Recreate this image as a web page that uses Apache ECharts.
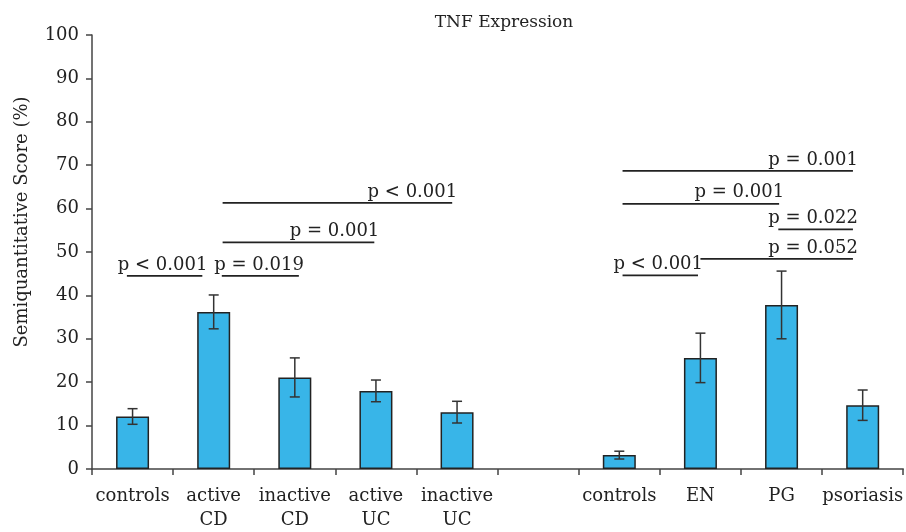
<!DOCTYPE html>
<html>
<head>
<meta charset="utf-8">
<script src="https://cdn.jsdelivr.net/npm/echarts@6/dist/echarts.min.js"></script>
<style>
  html, body { margin: 0; padding: 0; background: #fff; }
  #chart { width: 906px; height: 532px; }
</style>
</head>
<body>
<div id="chart"></div>
<script>
// groups on the x axis (blank slot separates the two panels)
const categories = ['controls', 'active\nCD', 'inactive\nCD', 'active\nUC', 'inactive\nUC', '', 'controls', 'EN', 'PG', 'psoriasis'];
const means = [12.1, 36.2, 21.1, 18.0, 13.1, null, 3.2, 25.6, 37.8, 14.7];
const errors = [1.8, 3.9, 4.5, 2.5, 2.5, null, 0.9, 5.7, 7.8, 3.5];

// significance brackets (x in category units, 0..10)
const sigStart = [0.43, 1.60, 1.61, 1.61, 6.54, 6.54, 8.46, 7.50, 6.54];
const sigEnd = [1.36, 2.55, 3.48, 4.44, 9.38, 8.47, 9.38, 9.38, 7.47];
const sigLevel = [44.5, 44.5, 52.2, 61.3, 68.7, 61.1, 55.2, 48.4, 44.6];
const sigLabels = ['p < 0.001', 'p = 0.019', 'p = 0.001', 'p < 0.001', 'p = 0.001', 'p = 0.001', 'p = 0.022', 'p = 0.052', 'p < 0.001'];

const FONT = 'DejaVu Serif';
const INK = '#222';

const chart = echarts.init(document.getElementById('chart'));

const errData = means.map((m, i) => m == null ? null : [i, m - errors[i], m + errors[i]]);
const sigData = sigStart.map((s, i) => [s, sigEnd[i], sigLevel[i], sigLabels[i]]);

const option = {
  backgroundColor: '#fff',
  animation: false,
  title: {
    text: 'TNF Expression',
    left: 499,
    top: 9,
    textAlign: 'center',
    textStyle: { fontFamily: FONT, fontSize: 17, fontWeight: 'normal', color: INK }
  },
  graphic: [{
    type: 'text',
    x: 22,
    y: 222,
    rotation: Math.PI / 2,
    style: {
      text: 'Semiquantitative Score (%)',
      font: '18px ' + FONT,
      fill: INK,
      align: 'center',
      verticalAlign: 'middle'
    }
  }],
  grid: { left: 92, top: 35, right: 0, bottom: 60 },
  xAxis: [
    {
      type: 'category',
      data: categories,
      axisLine: { lineStyle: { color: '#444', width: 1.5 } },
      axisTick: { show: true, alignWithLabel: false, length: 6, lineStyle: { color: '#444', width: 1.5 } },
      axisLabel: { fontFamily: FONT, fontSize: 18, color: INK, margin: 15, lineHeight: 24, interval: 0 }
    },
    { type: 'value', min: 0, max: 10, show: false }
  ],
  yAxis: {
    type: 'value',
    min: 0,
    max: 100,
    interval: 10,
    axisLine: { show: true, lineStyle: { color: '#444', width: 1.5 } },
    axisTick: { show: true, length: 6, lineStyle: { color: '#444', width: 1.5 } },
    splitLine: { show: false },
    axisLabel: { fontFamily: FONT, fontSize: 18, color: INK, margin: 13 }
  },
  series: [
    {
      type: 'bar',
      data: means,
      barWidth: 33,
      itemStyle: { color: '#38b5e8', borderColor: '#222', borderWidth: 1.5 }
    },
    {
      type: 'custom',
      data: errData.filter(d => d),
      z: 5,
      renderItem: function (params, api) {
        const lo = api.coord([api.value(0), api.value(1)]);
        const hi = api.coord([api.value(0), api.value(2)]);
        const cap = 5;
        const st = { stroke: '#333', lineWidth: 1.5 };
        return {
          type: 'group',
          children: [
            { type: 'line', shape: { x1: hi[0], y1: hi[1], x2: lo[0], y2: lo[1] }, style: st },
            { type: 'line', shape: { x1: hi[0] - cap, y1: hi[1], x2: hi[0] + cap, y2: hi[1] }, style: st },
            { type: 'line', shape: { x1: lo[0] - cap, y1: lo[1], x2: lo[0] + cap, y2: lo[1] }, style: st }
          ]
        };
      }
    },
    {
      type: 'custom',
      xAxisIndex: 1,
      data: sigData,
      z: 6,
      renderItem: function (params, api) {
        const a = api.coord([api.value(0), api.value(2)]);
        const b = api.coord([api.value(1), api.value(2)]);
        return {
          type: 'group',
          children: [
            { type: 'line', shape: { x1: a[0], y1: a[1], x2: b[0], y2: b[1] }, style: { stroke: INK, lineWidth: 1.8 } },
            {
              type: 'text',
              x: b[0] + 5,
              y: b[1] - 2,
              style: {
                text: sigLabels[params.dataIndex],
                font: '18px ' + FONT,
                fill: INK,
                align: 'right',
                verticalAlign: 'bottom'
              }
            }
          ]
        };
      }
    }
  ]
};

chart.setOption(option);
</script>
</body>
</html>
